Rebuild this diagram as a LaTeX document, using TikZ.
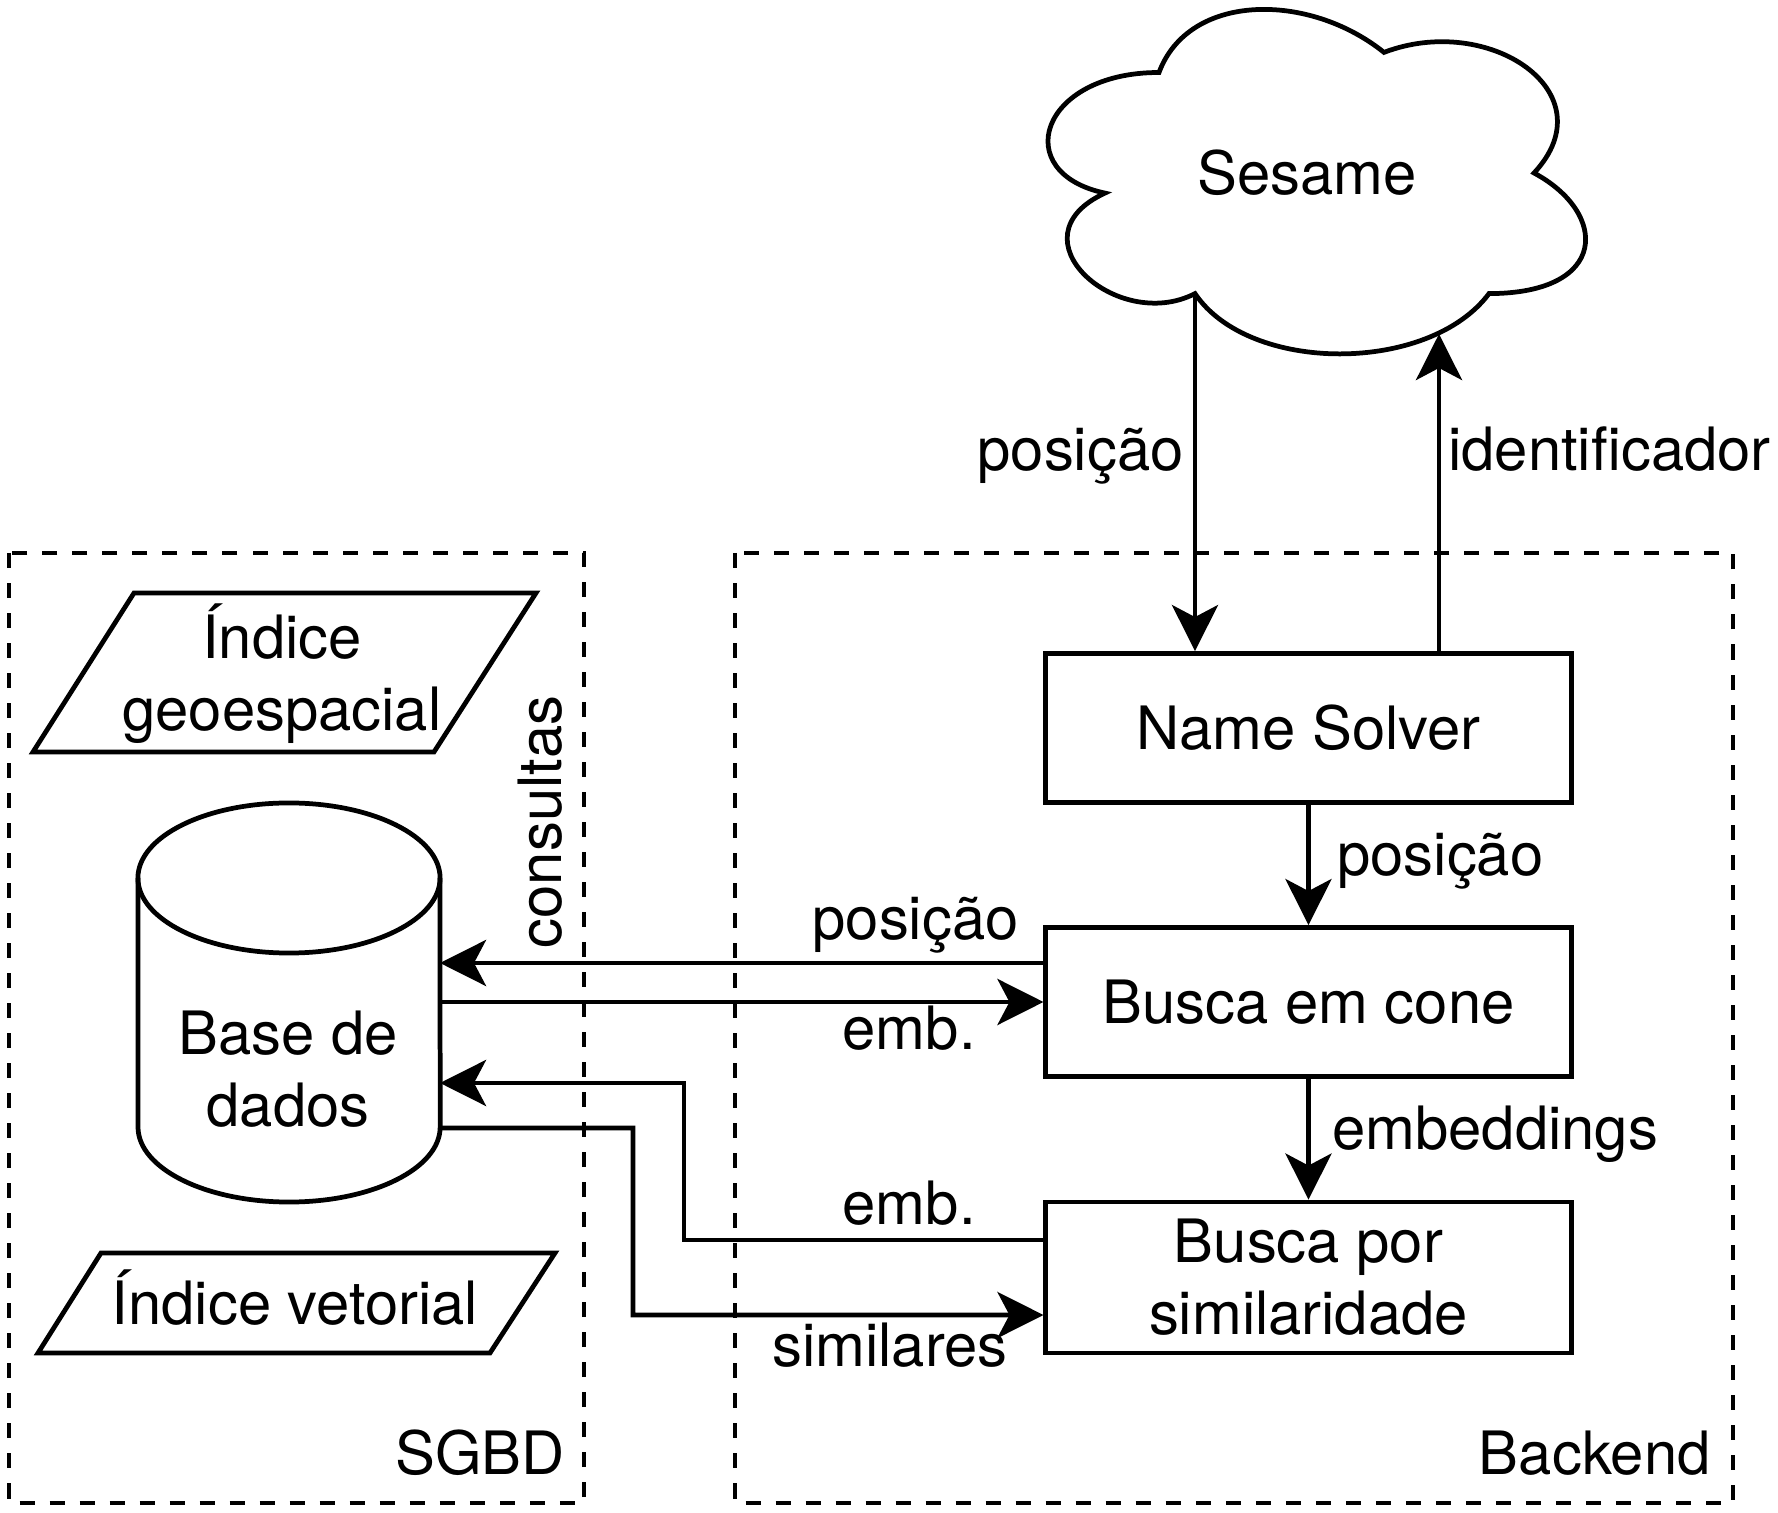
\documentclass[tikz,border=0pt]{standalone}
\usepackage{fontspec}
\setmainfont{TeX Gyre Heros}
\usetikzlibrary{arrows.meta}

\begin{document}
\begin{tikzpicture}[
  x=0.01cm,
  y=-0.01cm,
  line width=1.35pt,
  font=\fontsize{17pt}{20.5pt}\selectfont,
  block/.style={draw, minimum width=5.25cm, minimum height=1.49cm, align=center},
  zone/.style={dash pattern=on 0.15cm off 0.15cm},
  flow/.style={-{Stealth[length=4.6mm, width=4.6mm, inset=1.2mm]}},
  lbl/.style={inner sep=0pt}
]

% White background
\fill[white] (0,0) rectangle (1778,1513);
\useasboundingbox (0,0) rectangle (1778,1513);

% Dashed areas
\draw[zone] (9,553) rectangle (584,1503);
\draw[zone] (735,553) rectangle (1733,1503);
\node[lbl, anchor=base east] (sgbd) at (567,1475) {SGBD};
\node[lbl, anchor=base east] (backend) at (1713,1475) {Backend};

% Sesame cloud
\draw (1159,72.5) .. controls (1039,72.5) and (1009,173) .. (1105,193.1)
  .. controls (1009,237.3) and (1117,333.8) .. (1195,293.6)
  .. controls (1249,374) and (1429,374) .. (1489,293.6)
  .. controls (1609,293.6) and (1609,213.2) .. (1534,173)
  .. controls (1609,92.6) and (1489,12.2) .. (1384,52.4)
  .. controls (1309,-7.9) and (1189,-7.9) .. cycle;
\node[lbl, anchor=base] (sesame) at (1307,195) {Sesame};
\coordinate (cloudL) at (1195,293.6);
\coordinate (cloudR) at (1439,334);

% Backend blocks
\node[block] (solver) at (1308.5,728) {Name Solver};
\node[block] (cone) at (1308.5,1002) {Busca em cone};
\node[block, minimum height=1.51cm] (simil) at (1308.5,1277.5) {Busca por\\similaridade};

% Database cylinder
\draw (289,878) ellipse [x radius=1.51cm, y radius=0.75cm];
\draw (138,878) -- (138,1127)
  arc [start angle=180, end angle=360, x radius=1.51cm, y radius=0.75cm] -- (440,878);
\node[align=center] (db) at (288,1069) {Base de\\dados};
\coordinate (dbpos) at (440,963);
\coordinate (dbemb) at (440,1002);
\coordinate (dbsim) at (440,1083);
\coordinate (dbout) at (440,1128);

% Indexes
\draw (134,593) -- (536,593) -- (434,752) -- (33,752) -- cycle;
\node[align=center] (geoidx) at (282,674) {Índice\\geoespacial};
\draw (101,1253) -- (555,1253) -- (490,1353) -- (38,1353) -- cycle;
\node[anchor=base] (vecidx) at (295,1325) {Índice vetorial};

\node[lbl, rotate=90, anchor=base] (consultas) at (561,822) {consultas};

% Connectors
\draw[flow] (cloudL) -- (cloudL |- solver.north);
\draw[flow] (solver.north -| cloudR) -- (cloudR);
\draw[flow] (solver) -- (cone);
\draw[flow] (cone) -- (simil);
\draw[flow] (cone.west |- dbpos) -- (dbpos);
\draw[flow] (dbemb) -- (cone.west);
\draw[flow] ([yshift=0.375cm]simil.west) -| (684,1083) -- (dbsim);
\draw[flow] (dbout) -| (633,1315) -- ([yshift=-0.375cm]simil.west);

% Labels
\node[lbl, anchor=base east] (lposA) at (1186,471) {posição};
\node[lbl, anchor=base west] (lid) at (1446,471) {identificador};
\node[lbl, anchor=base west] (lposB) at (1335,876) {posição};
\node[lbl, anchor=base west] (lemb) at (1330,1150) {embeddings};
\node[lbl, anchor=base east] (lposC) at (1021,940) {posição};
\node[lbl, anchor=base east] (lembA) at (978,1050) {emb.};
\node[lbl, anchor=base east] (lembB) at (978,1225) {emb.};
\node[lbl, anchor=base east] (lsim) at (1010,1367) {similares};

\end{tikzpicture}
\end{document}
